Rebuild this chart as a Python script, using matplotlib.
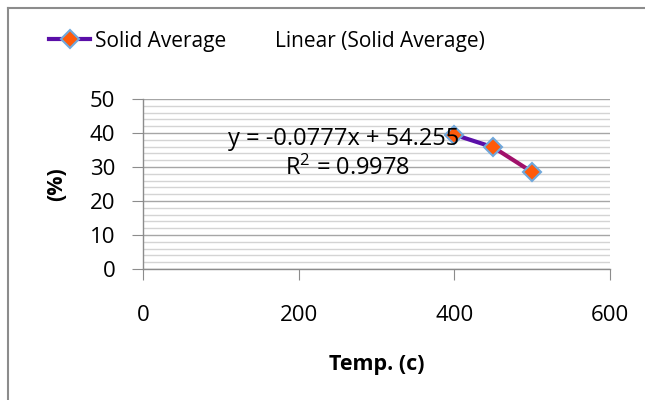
import matplotlib
matplotlib.use('Agg')
import matplotlib.pyplot as plt
from matplotlib.lines import Line2D
from matplotlib.collections import LineCollection
import numpy as np

# Данные
temp = [400, 450, 500]
solid_avg = [39.5, 35.8, 28.5]
eq_text = 'y = -0.0777x + 54.255'
r2_text = 'R$^2$ = 0.9978'
x_ticks = [0, 200, 400, 600]
y_ticks = [0, 10, 20, 30, 40, 50]

plt.rcParams['font.family'] = ['Open Sans', 'DejaVu Sans']
plt.rcParams['mathtext.default'] = 'regular'

fig = plt.figure(figsize=(6.45, 4.0), dpi=100)
W, H = 645, 400
ax = fig.add_axes([143 / W, 1 - 269 / H, (610 - 143) / W, (269 - 99) / H])

# Рамка вокруг диаграммы (видны только левая и верхняя стороны)
fig.add_artist(Line2D([8 / W, 8 / W], [0, 1 - 8 / H], transform=fig.transFigure,
                      color='#8c8c8c', lw=1.5))
fig.add_artist(Line2D([8 / W, 1], [1 - 8 / H, 1 - 8 / H], transform=fig.transFigure,
                      color='#8c8c8c', lw=1.5))

ax.set_xlim(0, 600)
ax.set_ylim(0, 50)
ax.set_xticks(x_ticks)
ax.set_yticks(y_ticks)
ax.set_yticks(np.arange(0, 51, 2), minor=True)

ax.grid(True, which='minor', axis='y', color='#d4d4d4', lw=1.0)
ax.grid(True, which='major', axis='y', color='#a6a6a6', lw=1.0)
ax.set_axisbelow(True)

for s in ['top', 'right']:
    ax.spines[s].set_visible(False)
for s in ['left', 'bottom']:
    ax.spines[s].set_color('#8c8c8c')
    ax.spines[s].set_linewidth(1.0)

ax.tick_params(axis='both', which='major', direction='out', length=8,
               color='#8c8c8c', labelsize=16, labelcolor='#000000')
ax.tick_params(axis='y', which='minor', length=0)
ax.tick_params(axis='x', pad=18)
ax.tick_params(axis='y', pad=12)

# Линия с градиентом
pts = np.column_stack([temp, solid_avg])
segs = [pts[i:i + 2] for i in range(len(pts) - 1)]
lc = LineCollection(segs, colors=['#5a0fa8', '#a0106a'], linewidths=3, zorder=3,
                    capstyle='round', joinstyle='round')
ax.add_collection(lc)
ax.plot(temp, solid_avg, linestyle='none', marker='D', markersize=9,
        markerfacecolor='#ff5a0a', markeredgecolor='#6fa8dc', markeredgewidth=1.5,
        zorder=4)

ax.text(109, 38.3, eq_text, fontsize=17, va='center', ha='left', zorder=5)
ax.text(182, 29.5, r2_text, fontsize=17, va='center', ha='left', zorder=5)

ax.set_xlabel('Temp. (c)', fontsize=15.5, fontweight='bold', labelpad=20)
ax.set_ylabel('(%)', fontsize=15.5, fontweight='bold', labelpad=16)

h1 = Line2D([], [], color='#5a0fa8', lw=3, marker='D', markersize=9,
            markerfacecolor='#ff5a0a', markeredgecolor='#6fa8dc', markeredgewidth=1.5)
h2 = Line2D([], [], color='none')
fig.legend([h1, h2], ['Solid Average', 'Linear (Solid Average)'],
           loc='center left', bbox_to_anchor=(30 / W, 1 - 41 / H), ncol=2,
           frameon=False, fontsize=15, handlelength=2.0, handletextpad=0.2,
           columnspacing=0.15)

fig.savefig('out.png', dpi=100)
